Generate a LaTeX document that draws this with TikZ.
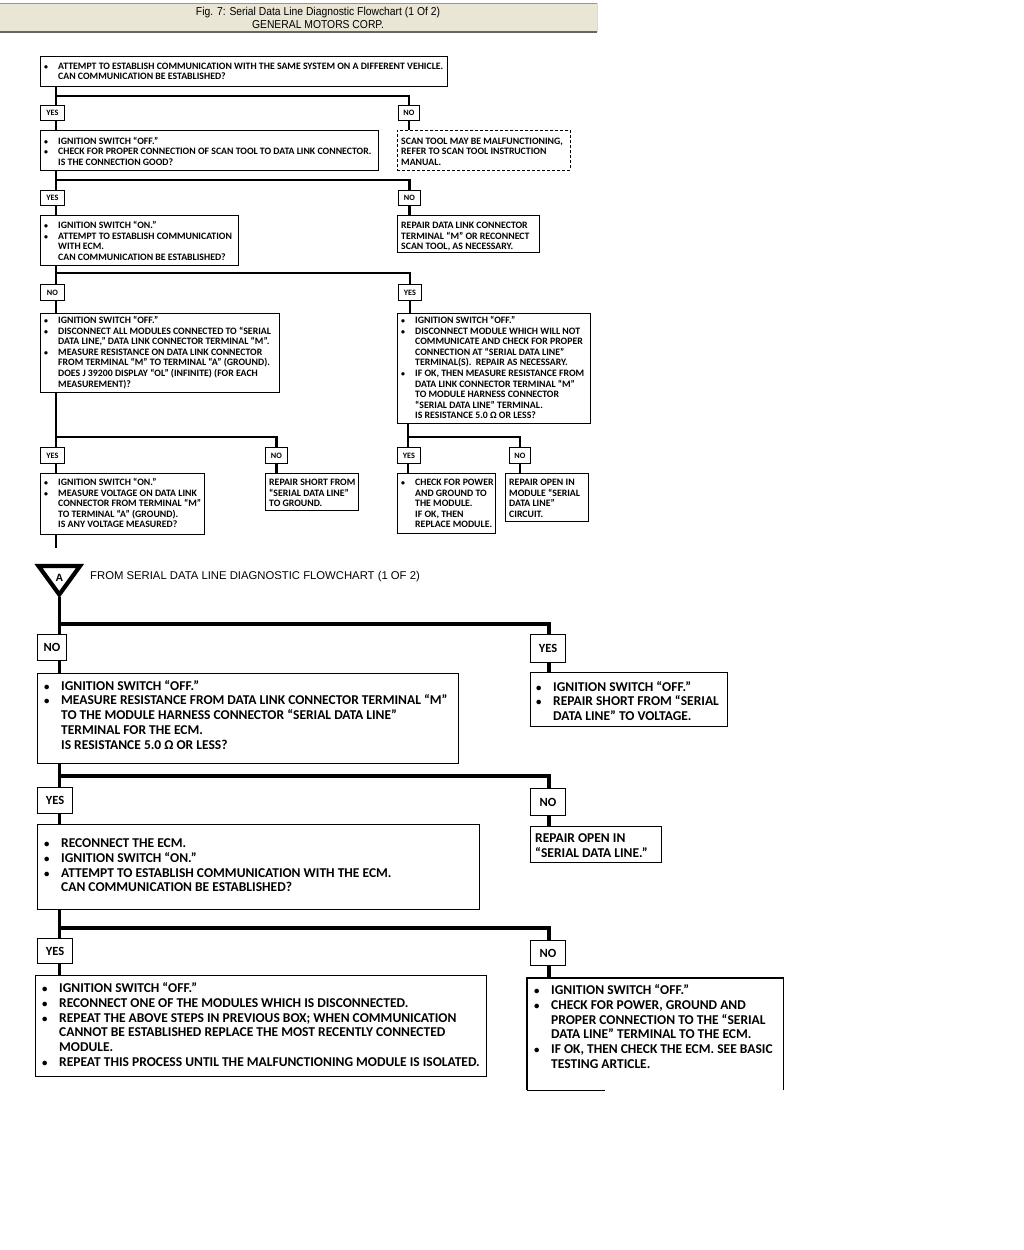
\documentclass[tikz,border=0pt]{standalone}
\usepackage{fontspec}
\newfontfamily\cf{Carlito}
\newfontfamily\ttlfont[FakeStretch=0.9]{Liberation Sans}
\newfontfamily\hdfont{Liberation Sans}
\definecolor{titlebg}{RGB}{233,230,214}
\definecolor{titleln}{RGB}{150,150,140}
\newcommand\mybul{\makebox[14pt][l]{\scalebox{0.8}{\textbullet}}}
\newcommand\myind{\hspace*{14pt}}
\newcommand\myBul{\makebox[17pt][l]{\scalebox{0.8}{\textbullet}}}
\newcommand\myInd{\hspace*{17pt}}
\tikzset{
  box/.style={draw, line width=0.9pt, inner sep=0pt, anchor=north west},
  dbox/.style={box, dashed, dash pattern=on 3pt off 2pt},
  lbl/.style={draw, line width=0.9pt, inner sep=0pt, anchor=north west, font=\cf\bfseries\fontsize{8.2}{8}\selectfont},
  Lbl/.style={draw, line width=1.1pt, inner sep=0pt, anchor=north west, font=\cf\bfseries\fontsize{12.5}{12}\selectfont},
  ts/.style={anchor=base west, inner sep=0pt, font=\cf\bfseries\fontsize{9.8}{10.6}\selectfont},
  Ts/.style={anchor=base west, inner sep=0pt, font=\cf\bfseries\fontsize{13.5}{14.8}\selectfont},
  conn/.style={line width=2.6pt},
  Conn/.style={line width=3.6pt},
}
\begin{document}
\begin{tikzpicture}[x=1pt,y=-1pt]
\useasboundingbox (0,0) rectangle (1024,1250);
% title bar
\fill[titlebg] (0,3) rectangle (597,32);
\draw[titleln, line width=1pt] (0,3) -- (597,3);
\draw[black!60, line width=1.4pt] (0,32) -- (597,32);
\draw[black!15, line width=0.6pt] (597,3) -- (597,32);
\node[font=\ttlfont\fontsize{11.5}{11}\selectfont, inner sep=0pt] (title1) at (318,12.5) {Fig. 7: Serial Data Line Diagnostic Flowchart (1 Of 2)};
\node[font=\ttlfont\fontsize{11.5}{11}\selectfont, inner sep=0pt] (title2) at (318,24.5) {GENERAL MOTORS CORP.};

% ===== top section =====
\node[box, minimum width=407pt, minimum height=30pt] (b1) at (40,56) {};
\node[ts] (t1) at (44,69) {\parbox[t]{500pt}{\raggedright
\mybul ATTEMPT TO ESTABLISH COMMUNICATION WITH THE SAME SYSTEM ON A DIFFERENT VEHICLE.\\
\myind CAN COMMUNICATION BE ESTABLISHED?}};

\node[lbl, minimum width=24pt, minimum height=15pt] (yes1) at (40,105) {YES};
\node[lbl, minimum width=21pt, minimum height=15pt] (no1) at (398,105) {NO};

\node[box, minimum width=338pt, minimum height=40pt] (b2) at (40,130) {};
\node[ts] (t2) at (44,144) {\parbox[t]{500pt}{\raggedright
\mybul IGNITION SWITCH “OFF.”\\
\mybul CHECK FOR PROPER CONNECTION OF SCAN TOOL TO DATA LINK CONNECTOR.\\
\myind IS THE CONNECTION GOOD?}};
\node[dbox, minimum width=173pt, minimum height=40pt] (d1) at (397,130) {};
\node[ts] (td1) at (401,144) {\parbox[t]{500pt}{\raggedright
SCAN TOOL MAY BE MALFUNCTIONING,\\
REFER TO SCAN TOOL INSTRUCTION\\
MANUAL.}};

\node[lbl, minimum width=24pt, minimum height=15pt] (yes2) at (40,190) {YES};
\node[lbl, minimum width=22pt, minimum height=15pt] (no2) at (398,190) {NO};

\node[box, minimum width=198pt, minimum height=50pt] (b3) at (40,215) {};
\node[ts] (t3) at (44,228.5) {\parbox[t]{500pt}{\raggedright
\mybul IGNITION SWITCH “ON.”\\
\mybul ATTEMPT TO ESTABLISH COMMUNICATION\\
\myind WITH ECM.\\
\myind CAN COMMUNICATION BE ESTABLISHED?}};
\node[box, minimum width=142pt, minimum height=37pt] (r2) at (397,215) {};
\node[ts] (tr2) at (401,228.5) {\parbox[t]{500pt}{\raggedright
REPAIR DATA LINK CONNECTOR\\
TERMINAL “M” OR RECONNECT\\
SCAN TOOL, AS NECESSARY.}};

\node[lbl, minimum width=24pt, minimum height=16pt] (no3) at (40,284) {NO};
\node[lbl, minimum width=23pt, minimum height=16pt] (yes3) at (398,284) {YES};

\node[box, minimum width=239pt, minimum height=79pt] (b4) at (40,313) {};
\node[ts] (t4) at (44,323.5) {\parbox[t]{500pt}{\raggedright
\mybul IGNITION SWITCH “OFF.”\\
\mybul DISCONNECT ALL MODULES CONNECTED TO “SERIAL\\
\myind DATA LINE,” DATA LINK CONNECTOR TERMINAL “M”.\\
\mybul MEASURE RESISTANCE ON DATA LINK CONNECTOR\\
\myind FROM TERMINAL “M” TO TERMINAL “A” (GROUND).\\
\myind DOES J 39200 DISPLAY “OL” (INFINITE) (FOR EACH\\
\myind MEASUREMENT)?}};
\node[box, minimum width=193pt, minimum height=110pt] (b5) at (397,313) {};
\node[ts] (t5) at (401,323.5) {\parbox[t]{500pt}{\raggedright
\mybul IGNITION SWITCH “OFF.”\\
\mybul DISCONNECT MODULE WHICH WILL NOT\\
\myind COMMUNICATE AND CHECK FOR PROPER\\
\myind CONNECTION AT “SERIAL DATA LINE”\\
\myind TERMINAL(S).\ \ REPAIR AS NECESSARY.\\
\mybul IF OK, THEN MEASURE RESISTANCE FROM\\
\myind DATA LINK CONNECTOR TERMINAL “M”\\
\myind TO MODULE HARNESS CONNECTOR\\
\myind “SERIAL DATA LINE” TERMINAL.\\
\myind IS RESISTANCE 5.0 Ω OR LESS?}};

\node[lbl, minimum width=24pt, minimum height=16pt] (yes4) at (40,447) {YES};
\node[lbl, minimum width=22pt, minimum height=16pt] (no4) at (265,447) {NO};
\node[lbl, minimum width=23pt, minimum height=16pt] (yes5) at (397,447) {YES};
\node[lbl, minimum width=21pt, minimum height=16pt] (no5) at (509,447) {NO};

\node[box, minimum width=164pt, minimum height=61pt] (b6) at (40,473) {};
\node[ts] (t6) at (44,485.5) {\parbox[t]{500pt}{\raggedright
\mybul IGNITION SWITCH “ON.”\\
\mybul MEASURE VOLTAGE ON DATA LINK\\
\myind CONNECTOR FROM TERMINAL “M”\\
\myind TO TERMINAL “A” (GROUND).\\
\myind IS ANY VOLTAGE MEASURED?}};
\node[box, minimum width=93pt, minimum height=37pt] (b7) at (265,473) {};
\node[ts] (t7) at (269,485.5) {\parbox[t]{500pt}{\raggedright
REPAIR SHORT FROM\\
“SERIAL DATA LINE”\\
TO GROUND.}};
\node[box, minimum width=98pt, minimum height=60pt] (b8) at (397,473) {};
\node[ts] (t8) at (401,485.5) {\parbox[t]{500pt}{\raggedright
\mybul CHECK FOR POWER\\
\myind AND GROUND TO\\
\myind THE MODULE.\\
\myind IF OK, THEN\\
\myind REPLACE MODULE.}};
\node[box, minimum width=83pt, minimum height=48pt] (b9) at (505,473) {};
\node[ts] (t9) at (509,485.5) {\parbox[t]{500pt}{\raggedright
REPAIR OPEN IN\\
MODULE “SERIAL\\
DATA LINE”\\
CIRCUIT.}};
\coordinate (end6) at (56,548);

% top connectors
\coordinate (j1) at (56,96);
\coordinate (j2) at (56,180);
\coordinate (j3) at (56,273);
\coordinate (j4) at (56,437);
\coordinate (j5) at (408,437);
\draw[conn] (b1.south -| j1) -- (yes1.north -| j1);
\draw[conn] (j1) -| (no1.north);
\draw[conn] (yes1.south -| j1) -- (b2.north -| j1);
\draw[conn] (no1.south) -- (d1.north -| no1.south);
\draw[conn] (b2.south -| j2) -- (yes2.north -| j2);
\draw[conn] (j2) -| (no2.north);
\draw[conn] (yes2.south -| j2) -- (b3.north -| j2);
\draw[conn] (no2.south) -- (r2.north -| no2.south);
\draw[conn] (b3.south -| j3) -- (no3.north -| j3);
\draw[conn] (j3) -| (yes3.north);
\draw[conn] (no3.south -| j3) -- (b4.north -| j3);
\draw[conn] (yes3.south) -- (b5.north -| yes3.south);
\draw[conn] (b4.south -| j4) -- (yes4.north -| j4);
\draw[conn] (j4) -| (no4.north);
\draw[conn] (yes4.south -| j4) -- (b6.north -| j4);
\draw[conn] (no4.south) -- (b7.north -| no4.south);
\draw[conn] (b5.south -| j5) -- (yes5.north -| j5);
\draw[conn] (j5) -| (no5.north);
\draw[conn] (yes5.south -| j5) -- (b8.north -| j5);
\draw[conn] (no5.south) -- (b9.north -| no5.south);
\draw[conn] (b6.south -| end6) -- (end6);

% ===== bottom section =====
\draw[line width=4.2pt, line join=miter] (38.5,566) -- (80,566) -- (59.3,594.5) -- cycle;
\node[font=\hdfont\bfseries\fontsize{10.5}{10}\selectfont, inner sep=0pt] (tA) at (59.3,577.5) {A};
\coordinate (apex) at (59.5,597);
\node[anchor=base west, inner sep=0pt, font=\hdfont\fontsize{11.3}{12}\selectfont] (hd) at (90,579) {FROM SERIAL DATA LINE DIAGNOSTIC FLOWCHART (1 OF 2)};

\node[Lbl, minimum width=29pt, minimum height=26pt] (noa) at (37,634) {NO};
\node[Lbl, minimum width=35pt, minimum height=28pt] (yesa) at (530,634) {YES};

\node[box, line width=1.1pt, minimum width=421pt, minimum height=90pt] (b10) at (37,673) {};
\node[Ts] (t10) at (44,690) {\parbox[t]{600pt}{\raggedright
\myBul IGNITION SWITCH “OFF.”\\
\myBul MEASURE RESISTANCE FROM DATA LINK CONNECTOR TERMINAL “M”\\
\myInd TO THE MODULE HARNESS CONNECTOR “SERIAL DATA LINE”\\
\myInd TERMINAL FOR THE ECM.\\
\myInd IS RESISTANCE 5.0 Ω OR LESS?}};
\node[box, line width=1.1pt, minimum width=197pt, minimum height=54pt] (b11) at (530,672) {};
\node[Ts] (t11) at (536,691) {\parbox[t]{600pt}{\raggedright
\myBul IGNITION SWITCH “OFF.”\\
\myBul REPAIR SHORT FROM “SERIAL\\
\myInd DATA LINE” TO VOLTAGE.}};

\node[Lbl, minimum width=35pt, minimum height=26pt] (yesb) at (37,787) {YES};
\node[Lbl, minimum width=35pt, minimum height=27pt] (nob) at (530,788) {NO};

\node[box, line width=1.1pt, minimum width=442pt, minimum height=85pt] (b12) at (37,824) {};
\node[Ts] (t12) at (44,847.5) {\parbox[t]{600pt}{\raggedright
\myBul RECONNECT THE ECM.\\
\myBul IGNITION SWITCH “ON.”\\
\myBul ATTEMPT TO ESTABLISH COMMUNICATION WITH THE ECM.\\
\myInd CAN COMMUNICATION BE ESTABLISHED?}};
\node[box, line width=1.1pt, minimum width=131pt, minimum height=36pt] (b13) at (530,826) {};
\node[Ts] (t13) at (535,842.5) {\parbox[t]{600pt}{\raggedright
REPAIR OPEN IN\\
“SERIAL DATA LINE.”}};

\node[Lbl, minimum width=35pt, minimum height=25pt] (yesc) at (37,938) {YES};
\node[Lbl, minimum width=35pt, minimum height=25pt] (noc) at (530,940) {NO};

\node[box, line width=1.1pt, minimum width=451pt, minimum height=101pt] (b14) at (35,975) {};
\node[Ts] (t14) at (42,992.5) {\parbox[t]{600pt}{\raggedright
\myBul IGNITION SWITCH “OFF.”\\
\myBul RECONNECT ONE OF THE MODULES WHICH IS DISCONNECTED.\\
\myBul REPEAT THE ABOVE STEPS IN PREVIOUS BOX; WHEN COMMUNICATION\\
\myInd CANNOT BE ESTABLISHED REPLACE THE MOST RECENTLY CONNECTED\\
\myInd MODULE.\\
\myBul REPEAT THIS PROCESS UNTIL THE MALFUNCTIONING MODULE IS ISOLATED.}};
\node[inner sep=0pt, anchor=north west, minimum width=256pt, minimum height=112pt] (b15) at (527,978) {};
\draw[line width=1.1pt] (b15.south west) -- (b15.north west) -- (b15.north east) -- (b15.south east);
\draw[line width=1.1pt] (b15.south west) -- ([xshift=78pt]b15.south west);
\node[Ts] (t15) at (534,994.5) {\parbox[t]{600pt}{\raggedright
\myBul IGNITION SWITCH “OFF.”\\
\myBul CHECK FOR POWER, GROUND AND\\
\myInd PROPER CONNECTION TO THE “SERIAL\\
\myInd DATA LINE” TERMINAL TO THE ECM.\\
\myBul IF OK, THEN CHECK THE ECM. SEE BASIC\\
\myInd TESTING ARTICLE.}};

% bottom connectors
\coordinate (ka) at (59.5,624);
\coordinate (kb) at (59.5,776);
\coordinate (kc) at (59.5,928);
\coordinate (ra) at (549,624);
\draw[Conn] (apex) -- (noa.north -| ka);
\draw[Conn] (ka) -- (ra) -- (yesa.north -| ra);
\draw[Conn] (noa.south -| ka) -- (b10.north -| ka);
\draw[Conn] (yesa.south -| ra) -- (b11.north -| ra);
\draw[Conn] (b10.south -| kb) -- (yesb.north -| kb);
\draw[Conn] (kb) -| (nob.north -| ra);
\draw[Conn] (yesb.south -| kb) -- (b12.north -| kb);
\draw[Conn] (nob.south -| ra) -- (b13.north -| ra);
\draw[Conn] (b12.south -| kc) -- (yesc.north -| kc);
\draw[Conn] (kc) -| (noc.north -| ra);
\draw[Conn] (yesc.south -| kc) -- (b14.north -| kc);
\draw[Conn] (noc.south -| ra) -- (b15.north -| ra);
\end{tikzpicture}
\end{document}
